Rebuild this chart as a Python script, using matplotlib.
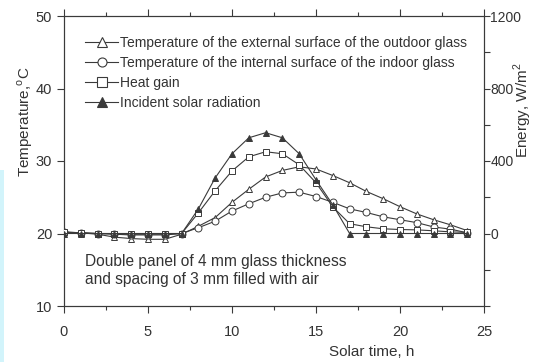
import matplotlib
matplotlib.use("Agg")
import matplotlib.pyplot as plt
from matplotlib.lines import Line2D
from matplotlib.patches import Rectangle
from matplotlib.ticker import MultipleLocator, FixedLocator

plt.rcParams['font.family'] = ['Liberation Sans', 'DejaVu Sans']

hours = list(range(25))
# Temperature of the external surface of the outdoor glass (°C)
t_outdoor = [20.2, 20.1, 19.9, 19.5, 19.3, 19.2, 19.2, 19.9, 21.0, 22.2, 24.3, 26.1, 27.8,
             28.7, 29.2, 28.9, 28.0, 27.0, 25.8, 24.8, 23.7, 22.7, 21.9, 21.2, 20.4]
# Temperature of the internal surface of the indoor glass (°C)
t_indoor = [20.2, 20.1, 20.0, 19.9, 19.8, 19.8, 19.8, 20.0, 20.8, 21.7, 23.1, 24.1, 25.0,
            25.6, 25.7, 25.1, 24.3, 23.4, 22.9, 22.3, 21.9, 21.5, 20.9, 20.6, 20.1]
# Heat gain (W/m2)
heat_gain = [6, 4, 0, -2, -4, -4, -4, 0, 114, 236, 345, 423, 451,
             440, 379, 280, 147, 54, 37, 26, 22, 20, 15, 9, 6]
# Incident solar radiation (W/m2)
solar = [0, 0, 0, 0, 0, 0, 0, 0, 136, 307, 440, 528, 556,
         528, 440, 296, 158, 0, 0, 0, 0, 0, 0, 0, 0]

energy_ticks = [0, 400, 800, 1200]

labels = ["Temperature of the external surface of the outdoor glass",
          "Temperature of the internal surface of the indoor glass",
          "Heat gain",
          "Incident solar radiation"]

lc = '#3a3a3a'
tc = '#333333'

fig = plt.figure(figsize=(5.33, 3.62), dpi=100)
# light cyan strip at the left border of the scanned figure
fig.patches.append(Rectangle((0, 0), 4/533, 192/362, transform=fig.transFigure,
                             facecolor='#d2f4fb', edgecolor='none', zorder=0))
ax = fig.add_axes([64/533, 1-306/362, 420/533, 290/362])
ax2 = ax.twinx()

ms = 5
kw = dict(color=lc, lw=0.8, markersize=ms, markeredgewidth=0.7, markeredgecolor=lc)
ax.plot(hours, t_outdoor, marker='^', markerfacecolor='white', **kw, zorder=3)
ax.plot(hours, t_indoor, marker='o', markerfacecolor='white', **kw, zorder=3)
ax2.plot(hours, heat_gain, marker='s', markerfacecolor='white', **kw, zorder=3)
ax2.plot(hours, solar, marker='^', markerfacecolor=lc, **kw, zorder=3)

ax.set_xlim(0, 25)
ax.set_ylim(10, 50)
ax2.set_ylim(-400, 1200)

ax.xaxis.set_major_locator(MultipleLocator(5))
ax.xaxis.set_minor_locator(MultipleLocator(2.5))
ax.yaxis.set_major_locator(MultipleLocator(10))
ax2.yaxis.set_major_locator(FixedLocator(energy_ticks))
ax2.yaxis.set_minor_locator(MultipleLocator(200))

ax.tick_params(axis='both', which='both', direction='out', colors=lc, labelcolor=tc,
               labelsize=10.5, width=0.8)
ax.tick_params(axis='x', which='both', top=True)
ax.tick_params(axis='x', which='major', pad=9)
ax.tick_params(which='major', length=5)
ax.tick_params(which='minor', length=3)
ax2.tick_params(axis='y', which='both', direction='out', colors=lc, labelcolor=tc,
                labelsize=10, width=0.8, pad=0.5)
ax2.tick_params(which='major', length=4)
ax2.tick_params(which='minor', length=4)
for a in (ax, ax2):
    for s in a.spines.values():
        s.set_color(lc)
        s.set_linewidth(0.8)

ax.set_xlabel("Solar time, h", fontsize=11, color=tc)
ax.xaxis.set_label_coords((372-64)/420, -0.135)
ax.set_ylabel("Temperature,$^\\mathregular{o}$C", fontsize=11, color=tc)
ax.yaxis.set_label_coords(-0.069, 0.634)
ax2.set_ylabel("Energy, W/m$^\\mathregular{2}$", fontsize=11, color=tc)
ax2.yaxis.set_label_coords(1.067, 0.675)

ax.text((85-64)/420, (306-270.5)/290,
        "Double panel of 4 mm glass thickness\nand spacing of 3 mm filled with air",
        transform=ax.transAxes, fontsize=11.2, color=tc, va='center', ha='left',
        linespacing=1.28)

hkw = dict(color=lc, lw=0.8, markersize=6.5, markeredgewidth=0.8)
handles = [
    Line2D([], [], marker='^', markerfacecolor='white', **hkw),
    Line2D([], [], marker='o', markerfacecolor='white', **hkw),
    Line2D([], [], marker='s', markerfacecolor='white', **hkw),
    Line2D([], [], marker='^', markerfacecolor=lc, **hkw),
]
leg = ax2.legend(handles, labels, loc='upper left', bbox_to_anchor=(0.05, 0.93),
                 frameon=False, fontsize=10, handlelength=2.4, handletextpad=0.15,
                 labelspacing=0.42, borderpad=0, borderaxespad=0)
for t in leg.get_texts():
    t.set_color(tc)

fig.savefig("out.png", dpi=100)
